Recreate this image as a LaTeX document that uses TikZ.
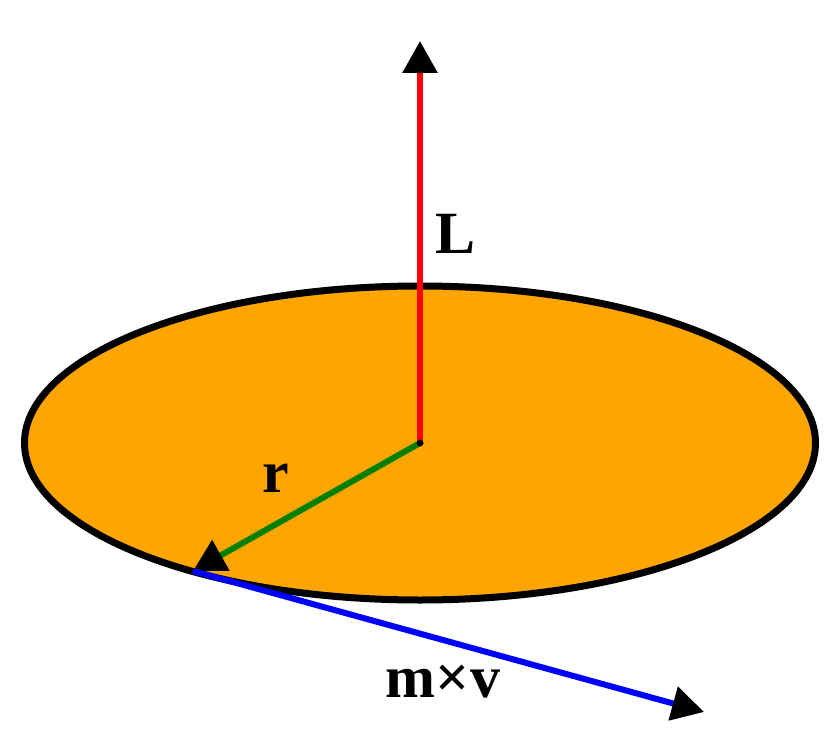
\documentclass[tikz,border=0pt]{standalone}
\usepackage{fontspec}
\setmainfont{Liberation Serif}
\usetikzlibrary{arrows.meta}
\definecolor{diskorange}{RGB}{255,165,0}
\definecolor{rgreen}{RGB}{0,128,0}
\begin{document}
\begin{tikzpicture}[x=1pt,y=-1pt,
  vec/.style={line width=6pt,-{Triangle[length=32pt,width=34pt,black]}},
  lbl/.style={font=\fontsize{60}{60}\selectfont\bfseries,inner sep=0pt}]
\useasboundingbox (0,0) rectangle (840,754);
\fill[white] (0,0) rectangle (840,754);
\coordinate (O) at (420,443);
\coordinate (Ltip) at (420,41);
\coordinate (P) at (193,571);
\coordinate (Vtip) at (704,712);
\draw[line width=7pt,fill=diskorange] (O) ellipse [x radius=395.5, y radius=157];
\draw[vec,red] (O) -- (Ltip);
\draw[vec,rgreen] (O) -- (P);
\fill (O) circle (3.5pt);
\draw[vec,blue] (P) -- (Vtip);
\node[lbl] (L) at (456,234) {L};
\node[lbl] (r) at (276,478) {r};
\node[lbl] (mv) at (443,682) {m×v};
\end{tikzpicture}
\end{document}
